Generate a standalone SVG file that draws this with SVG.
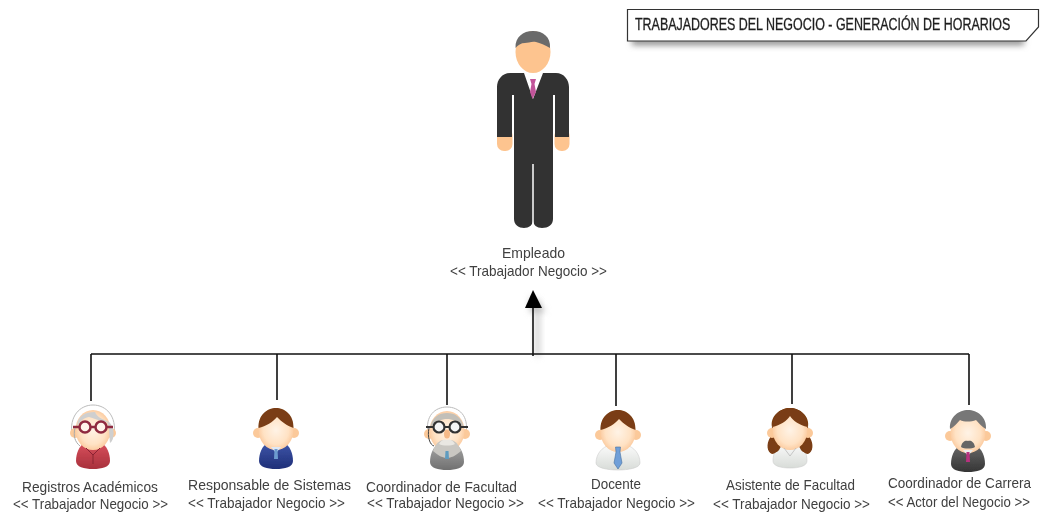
<svg xmlns="http://www.w3.org/2000/svg" width="1046" height="515" viewBox="0 0 1046 515">
<style>
text{font-family:"Liberation Sans",Arial,sans-serif;font-size:15px;fill:#3f3f3f;filter:url(#soft)}
.t{font-size:16px;fill:#1e1e1e;stroke:#1e1e1e;stroke-width:.3}
.n{font-size:14px}
.c{fill:none;stroke:#111;stroke-width:1.6}
.skin{fill:url(#skin)}
.ear{fill:#fbc99a}
</style>
<defs>
<filter id="soft" x="-5%" y="-20%" width="110%" height="140%"><feGaussianBlur stdDeviation="0.35"/></filter>
<filter id="icon" x="-10%" y="-10%" width="120%" height="120%"><feGaussianBlur stdDeviation="0.4"/></filter>
<filter id="sh" x="-100%" y="-60%" width="300%" height="260%"><feGaussianBlur stdDeviation="3"/></filter>
<radialGradient id="skin" cx="50%" cy="50%" r="60%"><stop offset="0" stop-color="#fff3e6"/><stop offset=".6" stop-color="#ffe2c4"/><stop offset="1" stop-color="#f9bd8a"/></radialGradient>
<linearGradient id="red" x1="0" y1="0" x2="0" y2="1"><stop offset="0" stop-color="#d8505c"/><stop offset="1" stop-color="#a8303c"/></linearGradient>
<linearGradient id="blue" x1="0" y1="0" x2="0" y2="1"><stop offset="0" stop-color="#3d55a8"/><stop offset="1" stop-color="#1f2f78"/></linearGradient>
<linearGradient id="grey" x1="0" y1="0" x2="0" y2="1"><stop offset="0" stop-color="#a5a5a5"/><stop offset="1" stop-color="#707070"/></linearGradient>
<linearGradient id="white" x1="0" y1="0" x2="0" y2="1"><stop offset="0" stop-color="#fbfbfb"/><stop offset="1" stop-color="#d8dcd8"/></linearGradient>
<linearGradient id="dark" x1="0" y1="0" x2="0" y2="1"><stop offset="0" stop-color="#666"/><stop offset="1" stop-color="#353535"/></linearGradient>
<path id="body" d="M-8 13C-14 15-17 24-17 31C-17 37-9 39 0 39C9 39 17 37 17 31C17 24 14 15 8 13Z"/>
<g id="head"><circle class="ear" cx="-18" cy="3" r="5"/><circle class="ear" cx="18" cy="3" r="5"/><ellipse class="skin" cx="0" cy="0" rx="17.500" ry="20"/></g>
<path id="hairM" d="M-17.500 -2C-18 -15-9 -22 0 -22C9 -22 18 -15 17.500 -2C11 -4 5 -9 1 -13C-3 -8-10 -4-17.500 -2Z"/>
</defs>

<g id="connectors">
<rect x="535" y="300" width="5" height="56" fill="#ccc" filter="url(#sh)"/>
<path d="M530 296L546 312H530Z" fill="#bbb" filter="url(#sh)"/>
<path class="c" d="M91 354H969M91 354V401M277 354V400M447 354V405M616 354V406M792 354V404M969 354V405M533 356V305"/>
<path d="M533 290L542 308H525Z" fill="#000"/>
</g>

<g id="empleado">
<g filter="url(#icon)">
<path d="M522 70H544L533 95Z" fill="#fff"/>
<rect x="497" y="128" width="15.500" height="23" rx="7" fill="#fdc48f"/>
<rect x="554.500" y="128" width="15" height="23" rx="7" fill="#fdc48f"/>
<ellipse cx="533" cy="52" rx="17.500" ry="21" fill="#fdc48f"/>
<path d="M515.500 48C515 37 523 31 533 31C543 31 551 37 550 48C545 45 540 43 536 42C532 41 528 43 525 43C521 43 518 45 515.500 48Z" fill="#6b6b6b"/>
<path d="M524 73H510C502 73 497 80 497 87V137H512V95H514V219C514 225 519 228 524 228C529 228 533 225 533 220V164V220C533 225 537 228 542 228C548 228 553 225 553 219V95H555V137H569V87C569 80 564 73 556 73H543L533 99Z" fill="#333"/>
<path d="M533 164V224" stroke="#fff" stroke-width="1.500"/>
<path d="M530 79H536L534.500 84L536 92L532.500 99L530 92L531.500 84Z" fill="#c2559a"/>
</g>
<text x="502" y="258" textLength="63" lengthAdjust="spacingAndGlyphs">Empleado</text>
<text x="450" y="276" textLength="157" lengthAdjust="spacingAndGlyphs">&lt;&lt; Trabajador Negocio &gt;&gt;</text>
</g>

<g id="registros">
<g transform="translate(93 430)" filter="url(#icon)">
<path d="M-21 5C-24 -14-13 -25 0 -25C13 -25 24 -14 21 5" fill="#fff" stroke="#bbb" stroke-width="1"/>
<use href="#body" fill="url(#red)"/>
<use href="#head"/>
<path d="M-16 -3C-16 -14-8 -18 2 -18C4 -12 12 -10 16 -8C22 -3 22 10 17 13C16 5 17 -2 14 -8C6 -9 0 -12 -4 -13C-10 -12 -14 -8 -16 -3Z" fill="#cfcfcf"/>
<g fill="#fff4ea" stroke="#8f2a3f" stroke-width="2.500"><circle cx="-8" cy="-3" r="5.500"/><circle cx="8" cy="-3" r="5.500"/></g>
<path d="M-20 -3H-13M-3 -3H3M13 -3H20" stroke="#8f2a3f" stroke-width="2.500"/>
<path d="M-18 -2C-20 6-18 12-13 16" fill="none" stroke="#aaa" stroke-width="1"/>
<path d="M-7 18L0 25L7 18M0 25V34" fill="none" stroke="#8a2430" stroke-width="1"/>
</g>
<text x="22" y="492" textLength="136" lengthAdjust="spacingAndGlyphs">Registros Académicos</text>
<text x="13" y="509" textLength="155" lengthAdjust="spacingAndGlyphs">&lt;&lt; Trabajador Negocio &gt;&gt;</text>
</g>

<g id="responsable">
<g transform="translate(276 430)" filter="url(#icon)">
<use href="#body" fill="url(#blue)"/>
<use href="#head"/>
<use href="#hairM" fill="#7a3d12"/>
<path d="M-5 17L0 23L5 17Z" fill="#dfe8f5"/><path d="M-1.500 19H1.500L2 29H-2Z" fill="#6c9bd0"/>
</g>
<text x="188" y="490" textLength="163" lengthAdjust="spacingAndGlyphs">Responsable de Sistemas</text>
<text x="188" y="508" textLength="157" lengthAdjust="spacingAndGlyphs">&lt;&lt; Trabajador Negocio &gt;&gt;</text>
</g>

<g id="coordinador-facultad">
<g transform="translate(447 431)" filter="url(#icon)">
<path d="M-19 2C-22 -15-12 -24 0 -24C12 -24 22 -15 19 2" fill="#fff" stroke="#bbb" stroke-width="1"/>
<use href="#body" fill="url(#grey)"/>
<use href="#head"/>
<path d="M-17 -3C-15 -14-8 -18 0 -18C8 -18 15 -14 17 -3C11 -10 5 -12 0 -12C-5 -12 -11 -10 -17 -3Z" fill="#c2bfb8"/>
<path d="M-14 20C-11 11-5 7 0 10C5 7 11 11 14 20C8 25 4 27 0 27C-4 27-8 25-14 20Z" fill="#c9c7c2"/>
<path d="M-8 13C-5 8-2 8 0 9C2 8 5 8 8 13C4 15-4 15-8 13Z" fill="#e9e7e2"/>
<ellipse cx="0" cy="3" rx="3" ry="4.500" fill="#f6b987"/>
<g fill="#f5f5f5" stroke="#333" stroke-width="2.200"><circle cx="-8" cy="-4" r="5.500"/><circle cx="8" cy="-4" r="5.500"/></g>
<path d="M-21 -4H-13M-3 -4H3M13 -4H21" stroke="#333" stroke-width="2.200"/>
<path d="M-18 -3C-20 6-17 14-13 15" fill="none" stroke="#444" stroke-width="1"/>
<path d="M-1.500 20H1.500L2 28H-2Z" fill="#5f9cc0"/>
</g>
<text x="366" y="492" textLength="151" lengthAdjust="spacingAndGlyphs">Coordinador de Facultad</text>
<text x="367" y="508" textLength="157" lengthAdjust="spacingAndGlyphs">&lt;&lt; Trabajador Negocio &gt;&gt;</text>
</g>

<g id="docente">
<g transform="translate(618 432)" filter="url(#icon)">
<path d="M-8 13C-16 15-22 22-22 31C-22 36-10 38 0 38C10 38 22 36 22 31C22 22 16 15 8 13Z" fill="url(#white)" stroke="#ccc" stroke-width=".6"/>
<use href="#head"/>
<use href="#hairM" fill="#7a3d12"/>
<path d="M-2.500 15H2.500L2 20L4 31L0 37L-4 31L-2 20Z" fill="#6f9fd8" stroke="#46719f" stroke-width=".6"/>
</g>
<text x="591" y="489" textLength="50" lengthAdjust="spacingAndGlyphs">Docente</text>
<text x="538" y="508" textLength="157" lengthAdjust="spacingAndGlyphs">&lt;&lt; Trabajador Negocio &gt;&gt;</text>
</g>

<g id="asistente">
<g transform="translate(790 430)" filter="url(#icon)">
<path d="M-8 13C-14 15-17 24-17 31C-17 36-9 38 0 38C9 38 17 36 17 31C17 24 14 15 8 13Z" fill="url(#white)" stroke="#ccc" stroke-width=".6"/>
<path d="M-18 -3C-20 -14-10 -22 0 -22C10 -22 20 -14 18 -3L22 18C20 24 14 24 11 20L0 0L-11 20C-14 24-20 24-22 18Z" fill="#7a3d12"/>
<use href="#head"/>
<path d="M-17.500 -3C-18 -15-9 -22 0 -22C9 -22 18 -15 17.500 -3C10 -5 3 -9 0 -14C-3 -9-10 -5-17.500 -3Z" fill="#7a3d12"/>
<path d="M-20 8C-24 14-23 22-18 24C-14 24-12 20-13 15ZM20 8C24 14 23 22 18 24C14 24 12 20 13 15Z" fill="#7a3d12"/>
<path d="M-6 18L0 26L6 18" fill="none" stroke="#bbb" stroke-width=".8"/>
</g>
<text x="726" y="490" textLength="129" lengthAdjust="spacingAndGlyphs">Asistente de Facultad</text>
<text x="713" y="509" textLength="157" lengthAdjust="spacingAndGlyphs">&lt;&lt; Trabajador Negocio &gt;&gt;</text>
</g>

<g id="coordinador-carrera">
<g transform="translate(968 433)" filter="url(#icon)">
<use href="#body" fill="url(#dark)"/>
<use href="#head"/>
<path d="M-18 -4C-19 -16-9 -23 0 -23C9 -23 19 -16 18 -4C14 -6 11 -10 8 -13C3 -11-4 -11-8 -13C-11 -10-14 -6-18 -4Z" fill="#777"/>
<path d="M-7 14C-6 8-2 7 0 8C2 7 6 8 7 14C4 16-4 16-7 14Z" fill="#666"/>
<path d="M-5 17L0 23L5 17Z" fill="#eee"/><path d="M-1.500 19H1.500L2 29H-2Z" fill="#b8307f"/>
</g>
<text class="n" x="888" y="488" textLength="143" lengthAdjust="spacingAndGlyphs">Coordinador de Carrera</text>
<text class="n" x="888" y="507" textLength="142" lengthAdjust="spacingAndGlyphs">&lt;&lt; Actor del Negocio &gt;&gt;</text>
</g>

<g id="titulo">
<rect x="632" y="38" width="392" height="7" fill="#888" filter="url(#sh)"/>
<path d="M627.500 9.500H1038.500V27L1026 41H627.500Z" fill="#fff" stroke="#333" stroke-width="1.200"/>
<text class="t" transform="translate(635 30) scale(.779 1)">TRABAJADORES DEL NEGOCIO - GENERACIÓN DE HORARIOS</text>
</g>
</svg>
